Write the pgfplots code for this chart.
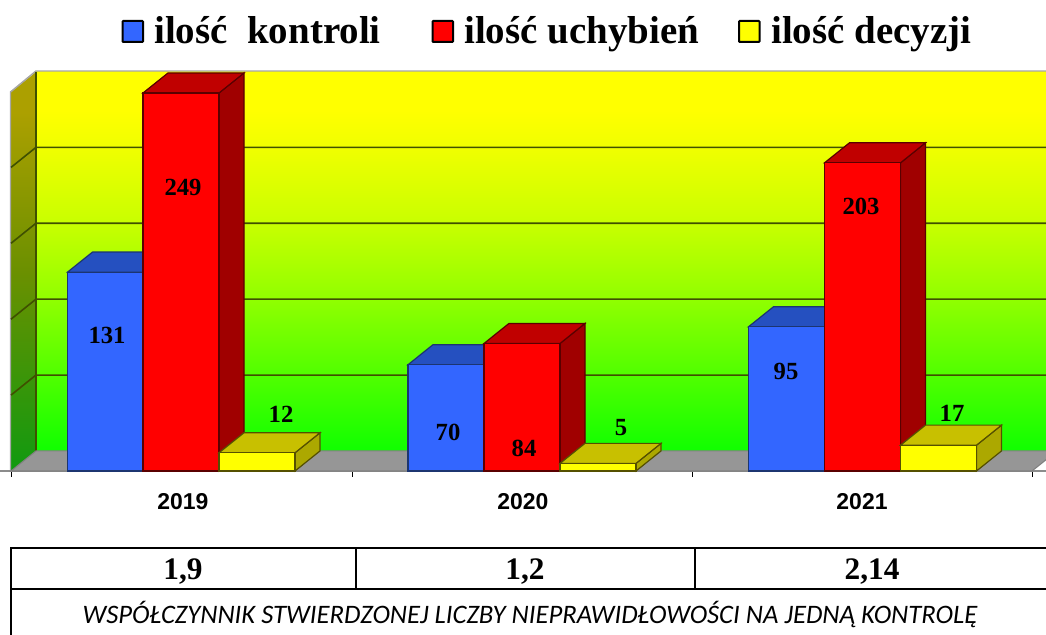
\documentclass[border=0pt]{standalone}
\usepackage{pgfplots}
\pgfplotsset{compat=1.18}
\usepackage{fontspec}
\setmainfont{Liberation Serif}
\newfontfamily\arialf{Liberation Sans}
\newfontfamily\calibrif{Carlito}
\definecolor{cblue}{HTML}{3366FF}
\definecolor{cbluetop}{HTML}{2550C0}
\definecolor{cblueedge}{HTML}{1C3570}
\definecolor{cred}{HTML}{FF0000}
\definecolor{credtop}{HTML}{C00000}
\definecolor{credside}{HTML}{A00000}
\definecolor{crededge}{HTML}{5A0000}
\definecolor{cyel}{HTML}{FFFF00}
\definecolor{cyeltop}{HTML}{C8C000}
\definecolor{cyelside}{HTML}{ACA800}
\definecolor{cyeledge}{HTML}{555000}
\definecolor{cgrid}{HTML}{3F5000}
\definecolor{cfloor}{HTML}{969696}
\definecolor{wa}{HTML}{10FF00}
\definecolor{wb}{HTML}{50FF00}
\definecolor{wc}{HTML}{90FF00}
\definecolor{wd}{HTML}{C8FF00}
\definecolor{we}{HTML}{F0FF00}
\definecolor{wf}{HTML}{FFFF00}
\definecolor{sa}{HTML}{109A10}
\definecolor{sb}{HTML}{6B9000}
\definecolor{sc}{HTML}{ACA000}
\pgfdeclareverticalshading{wallshade}{100bp}{color(0bp)=(wa);color(25bp)=(wa);color(35bp)=(wb);color(45bp)=(wc);color(55bp)=(wd);color(65bp)=(we);color(70bp)=(wf);color(100bp)=(wf)}
\pgfdeclareverticalshading{sideshade}{100bp}{color(0bp)=(sa);color(25bp)=(sa);color(50bp)=(sb);color(70bp)=(sc);color(100bp)=(sc)}
\begin{document}
\begin{tikzpicture}
\path[use as bounding box] (0,0) rectangle (784.5pt,476.25pt);
% back wall, side wall (pixel coordinates)
\begin{scope}[shift={(0,476.25pt)},x=0.75pt,y=-0.75pt]
\shade[shading=wallshade] (36,72) rectangle (1046,451);
\shade[shading=sideshade] (11,92) -- (36,72) -- (36,451) -- (11,471) -- cycle;
\draw[gray!70,line width=1.1pt] (10.5,472) -- (10.5,92) -- (36,71) -- (1046,71);
\draw[cgrid,line width=0.9pt] (36,72) -- (36,451);
\end{scope}
\begin{axis}[
  at={(0,0)},anchor=south west,
  scale only axis,width=784.5pt,height=476.25pt,
  xmin=0,xmax=1046,ymin=-108.04,ymax=310.28,
  axis x line=middle,axis y line=none,
  x axis line style={-,draw=black!45,line width=1.2pt},
  xtick={183,523,862},
  xticklabels={2019,2020,2021},
  minor xtick={11,352,692,1032},
  tick align=outside,
  major tick length=0pt,minor tick length=4.5pt,
  minor tick style={black,line width=0.6pt},
  x tick label style={font=\arialf\bfseries\fontsize{17.2}{18}\selectfont,yshift=-13.2pt},
]
% floor
\addplot[fill=cfloor,draw=black!50,line width=0.8pt] coordinates {(11,0)(36,13.2)(1057,13.2)(1032,0)} -- cycle;
% grid lines on walls
\addplot[cgrid,line width=1.2pt] coordinates {(11,50)(36,63.2)(1046,63.2)};
\addplot[cgrid,line width=1.2pt] coordinates {(11,100)(36,113.2)(1046,113.2)};
\addplot[cgrid,line width=1.2pt] coordinates {(11,150)(36,163.2)(1046,163.2)};
\addplot[cgrid,line width=1.2pt] coordinates {(11,200)(36,213.2)(1046,213.2)};
% blue bars
\addplot[fill=cbluetop,draw=cblueedge,line width=0.9pt] coordinates {(67.5,131)(143,131)(168,144.2)(92.5,144.2)} -- cycle;
\addplot[fill=cbluetop,draw=cblueedge,line width=0.9pt] coordinates {(408,70)(484,70)(509,83.2)(433,83.2)} -- cycle;
\addplot[fill=cbluetop,draw=cblueedge,line width=0.9pt] coordinates {(748.5,95)(824.5,95)(849.5,108.2)(773.5,108.2)} -- cycle;
\addplot[ybar,bar width=76,bar shift=0pt,fill=cblue,draw=cblueedge,line width=0.9pt] coordinates {(105.25,131)(446,70)(786.5,95)};
% red bars
\addplot[fill=credside,draw=crededge,line width=0.9pt] coordinates {(219,0)(244,13.2)(244,262.2)(219,249)} -- cycle;
\addplot[fill=credside,draw=crededge,line width=0.9pt] coordinates {(560,0)(585,13.2)(585,97.2)(560,84)} -- cycle;
\addplot[fill=credside,draw=crededge,line width=0.9pt] coordinates {(900.5,0)(925.5,13.2)(925.5,216.2)(900.5,203)} -- cycle;
\addplot[fill=credtop,draw=crededge,line width=0.9pt] coordinates {(143,249)(219,249)(244,262.2)(168,262.2)} -- cycle;
\addplot[fill=credtop,draw=crededge,line width=0.9pt] coordinates {(484,84)(560,84)(585,97.2)(509,97.2)} -- cycle;
\addplot[fill=credtop,draw=crededge,line width=0.9pt] coordinates {(824.5,203)(900.5,203)(925.5,216.2)(849.5,216.2)} -- cycle;
\addplot[ybar,bar width=76,bar shift=0pt,fill=cred,draw=crededge,line width=0.9pt] coordinates {(181,249)(522,84)(862.5,203)};
% yellow bars
\addplot[fill=cyelside,draw=cyeledge,line width=0.9pt] coordinates {(295,0)(320,13.2)(320,25.2)(295,12)} -- cycle;
\addplot[fill=cyelside,draw=cyeledge,line width=0.9pt] coordinates {(636,0)(661,13.2)(661,18.2)(636,5)} -- cycle;
\addplot[fill=cyelside,draw=cyeledge,line width=0.9pt] coordinates {(976.5,0)(1001.5,13.2)(1001.5,30.2)(976.5,17)} -- cycle;
\addplot[fill=cyeltop,draw=cyeledge,line width=0.9pt] coordinates {(219,12)(295,12)(320,25.2)(244,25.2)} -- cycle;
\addplot[fill=cyeltop,draw=cyeledge,line width=0.9pt] coordinates {(560,5)(636,5)(661,18.2)(585,18.2)} -- cycle;
\addplot[fill=cyeltop,draw=cyeledge,line width=0.9pt] coordinates {(900.5,17)(976.5,17)(1001.5,30.2)(925.5,30.2)} -- cycle;
\addplot[ybar,bar width=76,bar shift=0pt,fill=cyel,draw=cyeledge,line width=0.9pt] coordinates {(257,12)(598,5)(938.5,17)};
\end{axis}
% text and table (pixel coordinates)
\begin{scope}[shift={(0,476.25pt)},x=0.75pt,y=-0.75pt]
\tikzset{val/.style={font=\bfseries\fontsize{18.5}{20}\selectfont,inner sep=0pt,text=black},
         leg/.style={font=\bfseries\fontsize{29.2}{32}\selectfont,anchor=base west,inner sep=0pt},
         box/.style={draw=black,line width=1.5pt,rounded corners=0.6pt}}
\node[val] at (107,335) {131};
\node[val] at (183,187) {249};
\node[val] at (281,414) {12};
\node[val] at (448,432) {70};
\node[val] at (524,448) {84};
\node[val] at (621,428) {5};
\node[val] at (786,371) {95};
\node[val] at (861,206) {203};
\node[val] at (952,413) {17};
% legend
\draw[box,fill=cblue] (122.5,21) rectangle (143,42);
\node[leg] at (154,44) {ilość\ \ kontroli};
\draw[box,fill=cred] (432.5,21) rectangle (453,42);
\node[leg] at (464,44) {ilość uchybień};
\draw[box,fill=cyel] (739,21) rectangle (759.5,42);
\node[leg] at (771,44) {ilość decyzji};
% table
\draw[black,line width=1.5pt] (11,635) -- (11,548) -- (1046,548);
\draw[black,line width=1.5pt] (11,589.5) -- (1046,589.5);
\draw[black,line width=1.5pt] (356,548) -- (356,589.5);
\draw[black,line width=1.5pt] (695,548) -- (695,589.5);
\node[font=\bfseries\fontsize{23.5}{26}\selectfont,inner sep=0pt] at (183,572) {1,9};
\node[font=\bfseries\fontsize{23.5}{26}\selectfont,inner sep=0pt] at (525,572) {1,2};
\node[font=\bfseries\fontsize{23.5}{26}\selectfont,inner sep=0pt] at (872,572) {2,14};
\node[font=\calibrif\itshape\fontsize{20}{22}\selectfont,inner sep=0pt] at (530,614) {WSPÓŁCZYNNIK STWIERDZONEJ LICZBY NIEPRAWIDŁOWOŚCI NA JEDNĄ KONTROLĘ};
\end{scope}
\end{tikzpicture}
\end{document}
